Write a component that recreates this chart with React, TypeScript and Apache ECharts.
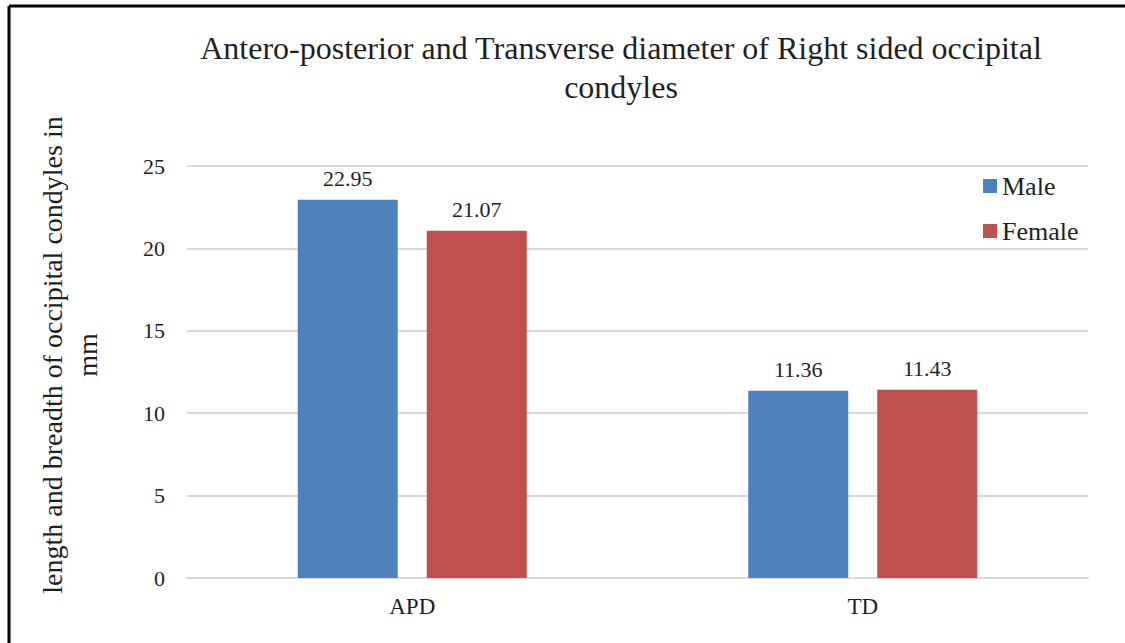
import React, { useEffect, useRef } from "react";
import * as echarts from "echarts";

const categories = ["APD", "TD"];
const maleValues = [22.95, 11.36];
const femaleValues = [21.07, 11.43];
const seriesNames = ["Male", "Female"];
const yTicks = { min: 0, max: 25, interval: 5 };
const titleLines = [
  "Antero-posterior and Transverse diameter of Right sided occipital",
  "condyles",
];
const yAxisTitleLines = ["length and breadth of occipital condyles in", "mm"];

const SERIF = "Liberation Serif";
const INK = "#1f1f1f";

export default function App() {
  const ref = useRef<HTMLDivElement>(null);

  useEffect(() => {
    if (!ref.current) return;
    const chart = echarts.init(ref.current, undefined, { renderer: "svg" });
    const labelStyle = {
      show: true,
      position: "top" as const,
      distance: 10,
      fontFamily: SERIF,
      fontSize: 22,
      color: INK,
    };
    chart.setOption({
      animation: false,
      backgroundColor: "#ffffff",
      textStyle: { fontFamily: SERIF },
      grid: { left: 187, right: 37, top: 166, bottom: 65, containLabel: false },
      legend: {
        orient: "vertical",
        left: 978,
        top: 168,
        itemWidth: 14,
        itemHeight: 14,
        itemGap: 19,
        icon: "rect",
        textStyle: { fontFamily: SERIF, fontSize: 26, color: INK },
        data: seriesNames,
      },
      xAxis: {
        type: "category",
        data: categories,
        axisLine: { show: true, lineStyle: { color: "#d9d9d9", width: 2 } },
        axisTick: { show: false },
        axisLabel: { fontFamily: SERIF, fontSize: 23, color: INK, margin: 17 },
      },
      yAxis: {
        type: "value",
        min: yTicks.min,
        max: yTicks.max,
        interval: yTicks.interval,
        axisLine: { show: false },
        axisTick: { show: false },
        splitLine: { lineStyle: { color: "#d9d9d9", width: 2 } },
        axisLabel: { fontFamily: SERIF, fontSize: 22, color: INK, margin: 22 },
      },
      series: [
        {
          name: seriesNames[0],
          type: "bar",
          data: maleValues,
          barWidth: 100,
          barGap: "29%",
          itemStyle: { color: "#4f81bd" },
          label: labelStyle,
        },
        {
          name: seriesNames[1],
          type: "bar",
          data: femaleValues,
          barWidth: 100,
          barGap: "29%",
          itemStyle: { color: "#c0504d" },
          label: labelStyle,
        },
      ],
      graphic: [
        // frame edges along the top and left
        { type: "line", shape: { x1: 9, y1: 6, x2: 1125, y2: 6 }, style: { stroke: "#000", lineWidth: 3 } },
        { type: "line", shape: { x1: 9, y1: 6, x2: 9, y2: 643 }, style: { stroke: "#000", lineWidth: 3 } },
        {
          type: "text",
          style: {
            text: titleLines[0],
            x: 621,
            y: 48,
            textAlign: "center",
            textVerticalAlign: "middle",
            fontFamily: SERIF,
            fontSize: 32,
            fill: INK,
          },
        },
        {
          type: "text",
          style: {
            text: titleLines[1],
            x: 621,
            y: 87,
            textAlign: "center",
            textVerticalAlign: "middle",
            fontFamily: SERIF,
            fontSize: 32,
            fill: INK,
          },
        },
        {
          type: "text",
          x: 52,
          y: 355,
          rotation: Math.PI / 2,
          style: {
            text: yAxisTitleLines[0],
            x: 0,
            y: 0,
            textAlign: "center",
            textVerticalAlign: "middle",
            fontFamily: SERIF,
            fontSize: 28,
            fill: INK,
          },
        },
        {
          type: "text",
          x: 87,
          y: 355,
          rotation: Math.PI / 2,
          style: {
            text: yAxisTitleLines[1],
            x: 0,
            y: 0,
            textAlign: "center",
            textVerticalAlign: "middle",
            fontFamily: SERIF,
            fontSize: 28,
            fill: INK,
          },
        },
      ],
    });
    return () => chart.dispose();
  }, []);

  return (
    <div
      ref={ref}
      style={{ position: "absolute", left: 0, top: 0, width: 1125, height: 643 }}
    />
  );
}
